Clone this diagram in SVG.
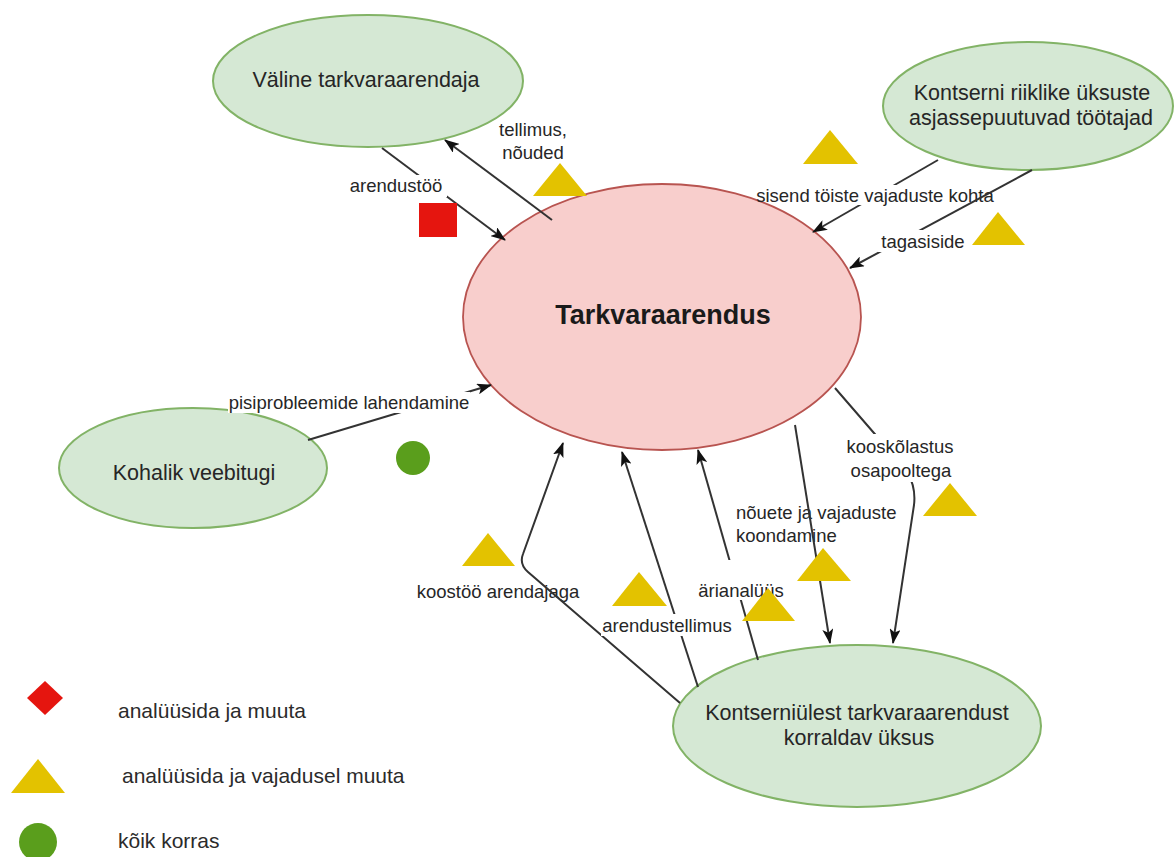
<svg xmlns="http://www.w3.org/2000/svg" width="1174" height="857" viewBox="0 0 1174 857">
  <style>
    .bg { fill: #ffffff; }
    .actor { fill: #d5e8d4; stroke: #82b366; stroke-width: 2; }
    .core { fill: #f8cecc; stroke: #b85450; stroke-width: 1.8; }
    .ntext { font-family: "Liberation Sans", Arial, sans-serif; font-size: 21.5px; fill: #262626; text-anchor: middle; dominant-baseline: central; }
    .ctext { font-family: "Liberation Sans", Arial, sans-serif; font-size: 27px; font-weight: bold; fill: #1a1a1a; text-anchor: middle; dominant-baseline: central; }
    .edge { fill: none; stroke: #333333; stroke-width: 2; marker-end: url(#arrow); }
    .ltext { font-family: "Liberation Sans", Arial, sans-serif; font-size: 18.5px; fill: #262626; text-anchor: middle; dominant-baseline: central; }
    .lbg { fill: #ffffff; }
    .warn { fill: #e3c200; }
    .crit { fill: #e5150f; }
    .ok { fill: #5a9e1c; }
    .legend { font-family: "Liberation Sans", Arial, sans-serif; font-size: 21px; fill: #2b2b2b; dominant-baseline: central; }
  </style>
  <defs>
    <marker id="arrow" viewBox="0 0 15 11" refX="14" refY="5.5" markerWidth="15" markerHeight="11" markerUnits="userSpaceOnUse" orient="auto">
      <path d="M0,0 L15,5.5 L0,11 L3.5,5.5 z" fill="#111111"/>
    </marker>
  </defs>

  <rect class="bg" x="0" y="0" width="1174" height="857"/>

  <!-- nodes -->
  <g id="node-valine">
    <ellipse class="actor" cx="368" cy="81" rx="155" ry="66"/>
    <text class="ntext" x="366" y="80">Väline tarkvaraarendaja</text>
  </g>
  <g id="node-kontserni-tootajad">
    <ellipse class="actor" cx="1028" cy="106" rx="145" ry="64"/>
    <text class="ntext" x="1032" y="93">Kontserni riiklike üksuste</text>
    <text class="ntext" x="1031" y="118">asjassepuutuvad töötajad</text>
  </g>
  <g id="node-kohalik">
    <ellipse class="actor" cx="193" cy="468" rx="134" ry="60"/>
    <text class="ntext" x="194" y="473">Kohalik veebitugi</text>
  </g>
  <g id="node-kontserniulene">
    <ellipse class="actor" cx="857" cy="726" rx="184" ry="81"/>
    <text class="ntext" x="857" y="713">Kontserniülest tarkvaraarendust</text>
    <text class="ntext" x="859" y="738">korraldav üksus</text>
  </g>
  <g id="node-tarkvaraarendus">
    <ellipse class="core" cx="662" cy="317" rx="199" ry="133"/>
    <text class="ctext" x="663" y="315">Tarkvaraarendus</text>
  </g>

  <!-- connectors -->
  <g id="connectors">
    <!-- arendustöö -->
    <path class="edge" d="M382,148 L505,240"/>
    <rect class="lbg" x="346" y="175" width="101" height="22"/>
    <text class="ltext" x="396" y="185">arendustöö</text>

    <!-- tellimus, nõuded -->
    <path class="edge" d="M552,220 L445,140"/>
    <text class="ltext" x="533" y="129">tellimus,</text>
    <text class="ltext" x="533" y="152">nõuded</text>

    <!-- sisend töiste vajaduste kohta -->
    <path class="edge" d="M938,160 L813,232"/>
    <rect class="lbg" x="846" y="185" width="60" height="20"/>
    <text class="ltext" x="875" y="195">sisend töiste vajaduste kohta</text>

    <!-- tagasiside -->
    <path class="edge" d="M1032,170 L850,268"/>
    <rect class="lbg" x="878" y="230" width="92" height="22"/>
    <text class="ltext" x="923" y="241">tagasiside</text>

    <!-- pisiprobleemide lahendamine -->
    <path class="edge" d="M308,440 L491,385"/>
    <rect class="lbg" x="228" y="392" width="242" height="21"/>
    <text class="ltext" x="349" y="402">pisiprobleemide lahendamine</text>

    <!-- koostöö arendajaga -->
    <text class="ltext" x="498" y="591">koostöö arendajaga</text>
    <path class="edge" d="M680,703 L528,572 Q519,564 523,554 L563,443"/>

    <!-- arendustellimus -->
    <path class="edge" d="M698,687 L622,452"/>
    <rect class="lbg" x="601" y="614" width="133" height="22"/>
    <text class="ltext" x="667" y="625">arendustellimus</text>

    <!-- ärianalüüs -->
    <path class="edge" d="M758,660 L698,450"/>
    <rect class="lbg" x="696" y="560" width="92" height="40"/>
    <text class="ltext" x="741" y="590">ärianalüüs</text>

    <!-- nõuete ja vajaduste koondamine -->
    <text class="ltext" x="736" y="512" style="text-anchor:start">nõuete ja vajaduste</text>
    <text class="ltext" x="736" y="535" style="text-anchor:start">koondamine</text>
    <path class="edge" d="M795,425 L830,643"/>

    <!-- kooskõlastus osapooltega -->
    <path class="edge" d="M835,388 L880,440 C905,465 917,480 914,505 L893,643"/>
    <rect class="lbg" x="842" y="434" width="116" height="48"/>
    <text class="ltext" x="900" y="446">kooskõlastus</text>
    <text class="ltext" x="901" y="470">osapooltega</text>
  </g>

  <!-- status markers -->
  <g id="status-markers">
    <rect class="crit" x="419" y="203" width="38" height="34"/>
    <polygon class="warn" points="560,163 587,196 533,196"/>
    <polygon class="warn" points="830,130 858,164 803,164"/>
    <polygon class="warn" points="998,212 1025,245 972,245"/>
    <polygon class="warn" points="488,533 515,566 462,566"/>
    <polygon class="warn" points="639,572 667,606 612,606"/>
    <polygon class="warn" points="823,548 851,581 797,581"/>
    <polygon class="warn" points="768,588 795,621 742,621"/>
    <polygon class="warn" points="950,483 977,516 923,516"/>
    <circle class="ok" cx="413" cy="458" r="17"/>
  </g>

  <!-- legend -->
  <g id="legend">
    <polygon class="crit" points="45,681 63,698 45,715 27,698"/>
    <text class="legend" x="118" y="710">analüüsida ja muuta</text>
    <polygon class="warn" points="38,759 65,793 11,793"/>
    <text class="legend" x="122" y="775">analüüsida ja vajadusel muuta</text>
    <circle class="ok" cx="38" cy="842" r="19"/>
    <text class="legend" x="118" y="840">kõik korras</text>
  </g>
</svg>
